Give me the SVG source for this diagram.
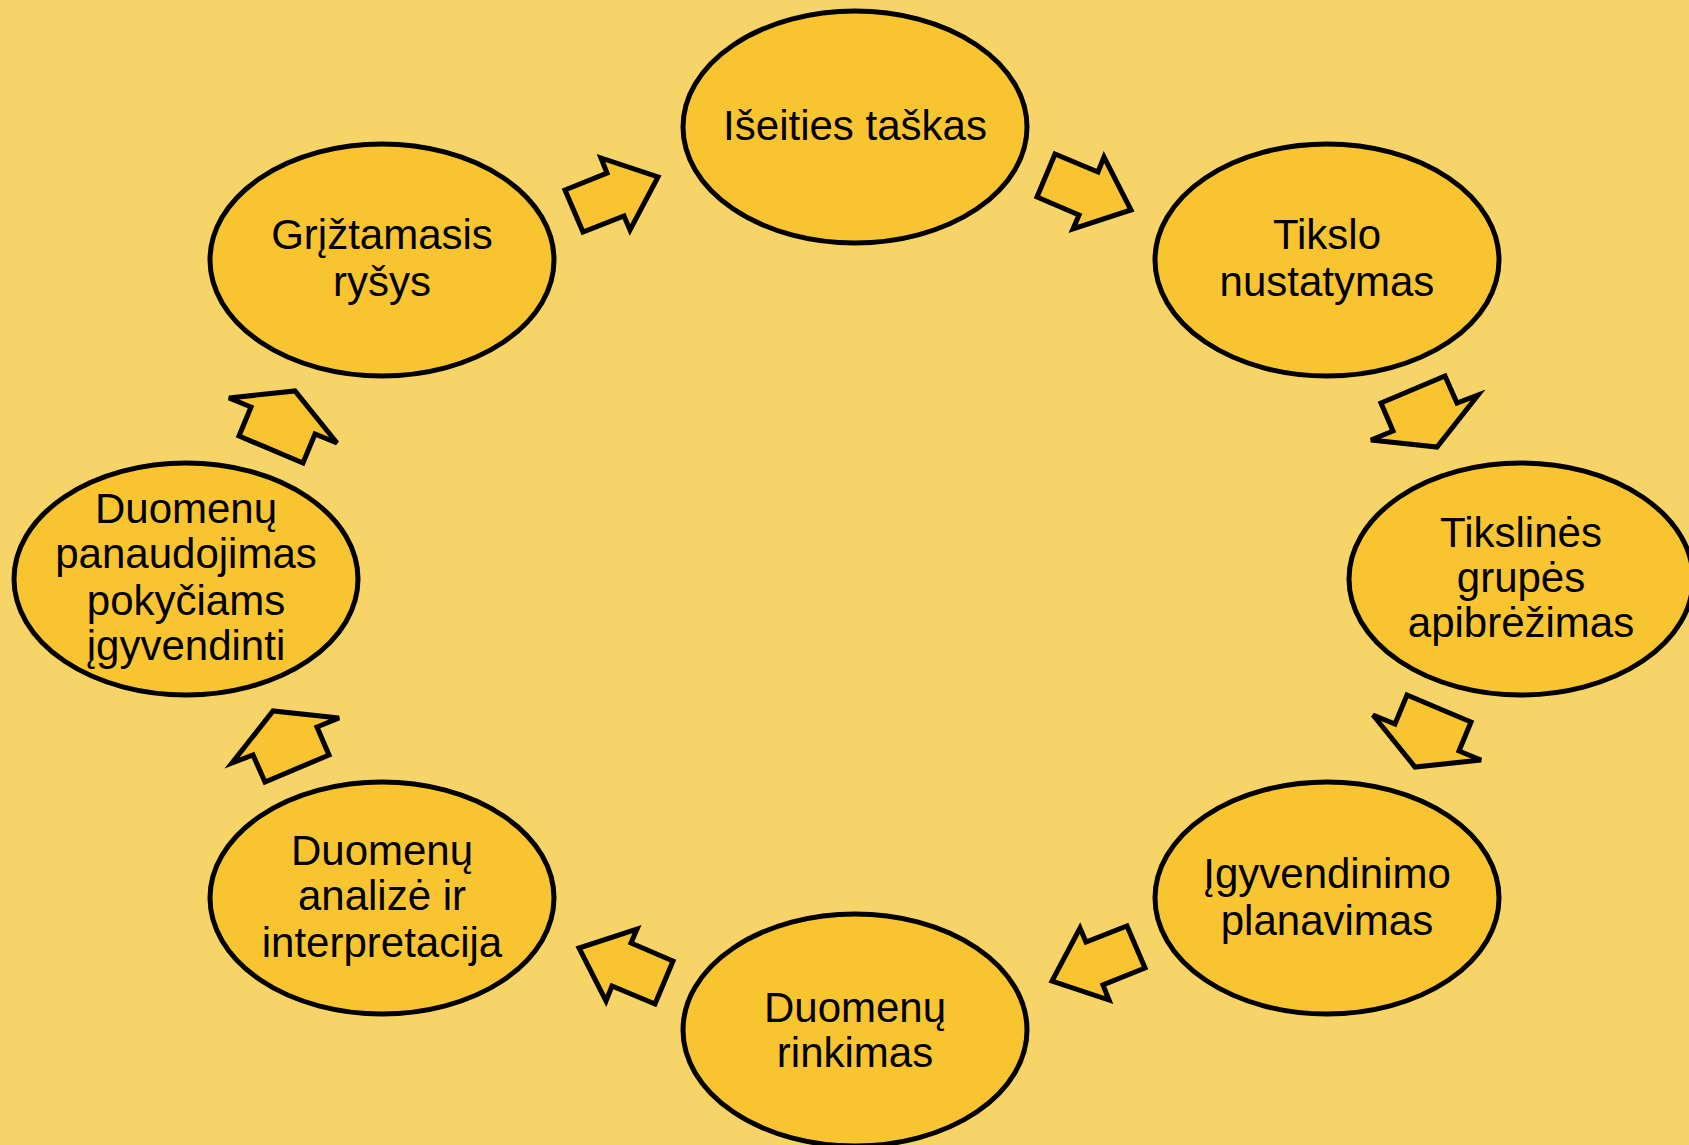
<svg xmlns="http://www.w3.org/2000/svg" width="1689" height="1145" viewBox="0 0 1689 1145">
<style>
.bg{fill:#F7D467}
.node ellipse{fill:#F8C42F;stroke:#000;stroke-width:5}
.node text{font-family:"Liberation Sans",Arial,sans-serif;font-size:42px;fill:#000;text-anchor:middle}
.arrow{fill:#F8C42F;stroke:#000;stroke-width:5;stroke-linejoin:miter}
</style>
<rect class="bg" x="0" y="0" width="1689" height="1145"/>
<g id="connectors">
<polygon class="arrow" points="565,190 607,173 601,158 658,177 630,230 624,216 583,232"/>
<polygon class="arrow" points="1055,154 1098,172 1104,157 1131,210 1073,229 1079,215 1037,197"/>
<polygon class="arrow" points="1381,403 1445,376 1457,403 1478,395 1437,447 1371,440 1393,431"/>
<polygon class="arrow" points="1407,695 1471,722 1459,751 1481,760 1415,767 1373,715 1395,724"/>
<polygon class="arrow" points="1145,968 1103,985 1109,1000 1052,981 1080,928 1086,942 1127,926"/>
<polygon class="arrow" points="655,1004 612,986 606,1001 579,948 637,929 631,943 673,961"/>
<polygon class="arrow" points="329,755 265,782 253,755 232,763 273,711 339,718 317,727"/>
<polygon class="arrow" points="303,463 239,436 251,407 229,398 295,391 337,443 315,434"/>
</g>
<g id="n1" class="node">
<ellipse cx="855" cy="127" rx="172" ry="116"/>
<text x="855" y="140">Išeities taškas</text>
</g>
<g id="n2" class="node">
<ellipse cx="1327" cy="260" rx="172" ry="116"/>
<text x="1327" y="249">Tikslo</text>
<text x="1327" y="296">nustatymas</text>
</g>
<g id="n3" class="node">
<ellipse cx="1521" cy="579" rx="172" ry="116"/>
<text x="1521" y="547">Tikslinės</text>
<text x="1521" y="592">grupės</text>
<text x="1521" y="637">apibrėžimas</text>
</g>
<g id="n4" class="node">
<ellipse cx="1327" cy="898" rx="172" ry="116"/>
<text x="1327" y="888">Įgyvendinimo</text>
<text x="1327" y="935">planavimas</text>
</g>
<g id="n5" class="node">
<ellipse cx="855" cy="1030" rx="172" ry="116"/>
<text x="855" y="1022">Duomenų</text>
<text x="855" y="1067">rinkimas</text>
</g>
<g id="n6" class="node">
<ellipse cx="382" cy="898" rx="172" ry="116"/>
<text x="382" y="865">Duomenų</text>
<text x="382" y="910">analizė ir</text>
<text x="382" y="957">interpretacija</text>
</g>
<g id="n7" class="node">
<ellipse cx="186" cy="579" rx="172" ry="116"/>
<text x="186" y="523">Duomenų</text>
<text x="186" y="568">panaudojimas</text>
<text x="186" y="615">pokyčiams</text>
<text x="186" y="660">įgyvendinti</text>
</g>
<g id="n8" class="node">
<ellipse cx="382" cy="260" rx="172" ry="116"/>
<text x="382" y="249">Grįžtamasis</text>
<text x="382" y="296">ryšys</text>
</g>
</svg>
